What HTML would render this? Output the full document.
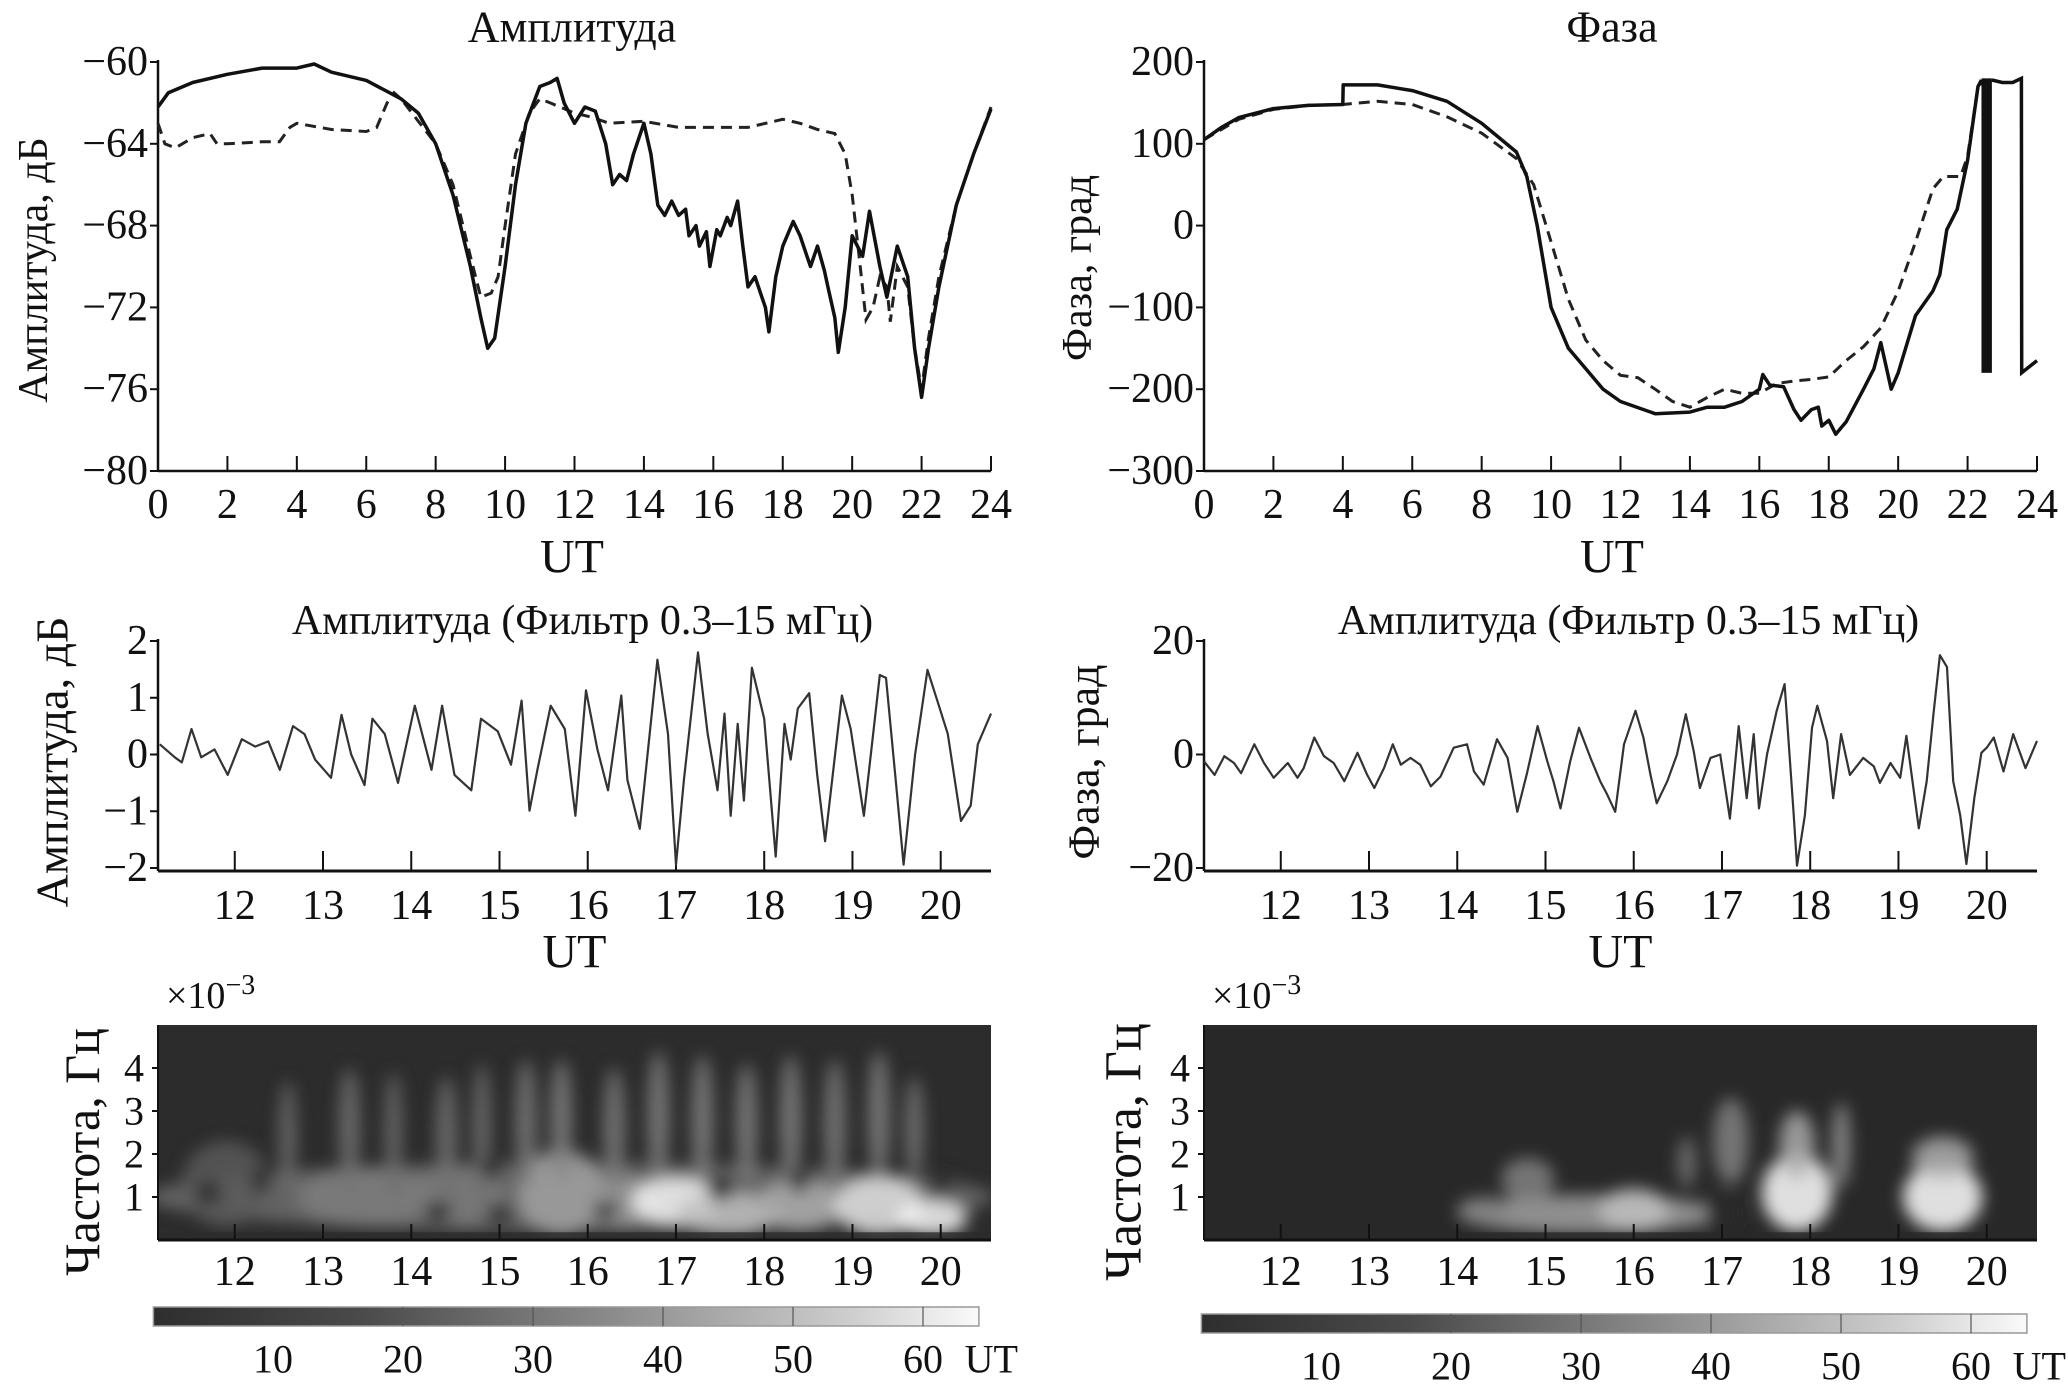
<!DOCTYPE html>
<html><head><meta charset="utf-8">
<style>
html,body{margin:0;padding:0;background:#fff;}
svg{display:block;font-family:"Liberation Serif","DejaVu Serif",serif;}
</style></head>
<body>
<svg id="fig" width="2068" height="1392" viewBox="0 0 2068 1392" xmlns="http://www.w3.org/2000/svg">
<defs>
<filter id="blur" x="-50%" y="-50%" width="200%" height="200%"><feGaussianBlur stdDeviation="8"/></filter>
<clipPath id="clipL"><rect x="158" y="1025" width="833" height="215"/></clipPath>
<clipPath id="clipR"><rect x="1204" y="1025" width="833" height="215"/></clipPath>
<linearGradient id="cbar" x1="0" x2="1" y1="0" y2="0">
<stop offset="0" stop-color="#2e2e2e"/><stop offset="0.25" stop-color="#4a4a4a"/><stop offset="0.55" stop-color="#8a8a8a"/><stop offset="0.85" stop-color="#cfcfcf"/><stop offset="1" stop-color="#fafafa"/>
</linearGradient>
</defs>
<g id="root"></g>
</svg>
<script>
// ---------- data ----------
const ampHours=[0,0.3,1,2,3,4,4.5,5,6,7,7.5,8,8.5,9,9.3,9.5,9.7,10,10.3,10.6,11,11.3,11.5,11.7,12,12.3,12.6,12.9,13.1,13.3,13.5,13.7,14,14.2,14.4,14.6,14.8,15,15.2,15.3,15.5,15.6,15.8,15.9,16.1,16.2,16.4,16.5,16.7,16.85,17,17.2,17.4,17.5,17.6,17.8,18,18.2,18.3,18.5,18.7,18.8,19,19.2,19.3,19.5,19.6,19.8,20,20.3,20.5,20.8,21,21.3,21.6,21.8,22,22.2,22.5,23,23.5,24];
const ampSolid=[-62.2,-61.5,-61,-60.6,-60.3,-60.3,-60.1,-60.5,-60.9,-61.8,-62.5,-64,-66.5,-70,-72.5,-74,-73.5,-70,-66,-63,-61.2,-61,-60.8,-62,-63,-62.2,-62.4,-64,-66,-65.5,-65.8,-64.5,-63,-64.5,-67,-67.5,-66.8,-67.5,-67.2,-68.5,-68,-69,-68.3,-70,-68.2,-68.5,-67.6,-68,-66.8,-69,-71,-70.5,-71.5,-72,-73.2,-70.5,-69,-68.2,-67.8,-68.5,-69.5,-70,-69,-70.2,-71,-72.5,-74.2,-72,-68.5,-69.5,-67.3,-70,-71.5,-69,-70.5,-74,-76.4,-74,-71,-67,-64.5,-62.3];
const ampDashHours=[0,0.2,0.5,1,1.5,1.7,2,3,3.5,3.8,4,5,6,6.3,6.6,6.8,7,8,8.5,9,9.3,9.6,9.8,10,10.3,10.7,11,11.3,12,12.5,13,14,15,16,17,18,18.5,19,19.5,19.8,20,20.2,20.4,20.6,20.8,21,21.1,21.3,21.6,21.8,22,22.2,22.5,23,23.5,24];
const ampDash=[-63,-64,-64.2,-63.7,-63.5,-64,-64,-63.9,-63.9,-63.2,-63,-63.3,-63.4,-63.2,-62,-61.5,-61.8,-64,-66,-69.5,-71.5,-71.3,-70.5,-68,-64.5,-62.5,-61.8,-62,-62.5,-62.7,-63,-62.9,-63.2,-63.2,-63.2,-62.8,-63,-63.3,-63.5,-64.5,-66.5,-69.5,-72.6,-72,-70.5,-71,-72.7,-70,-71,-74,-76,-73.5,-70.5,-67,-64.5,-62.2];
const phHours=[0,0.5,1,2,3,4,4.01,5,6,7,8,9,9.3,9.6,10,10.5,11,11.5,12,13,14,14.5,15,15.5,16,16.1,16.3,16.7,17,17.2,17.5,17.7,17.8,18,18.2,18.5,19,19.3,19.5,19.8,20,20.5,21,21.2,21.4,21.7,22,22.3,22.4];
const phSolid=[105,120,132,143,147,148,172,172,165,152,125,90,60,0,-100,-150,-175,-200,-215,-230,-228,-222,-222,-215,-200,-182,-195,-197,-225,-238,-225,-222,-245,-238,-255,-240,-200,-175,-143,-200,-180,-110,-80,-60,-5,20,80,170,178];
const phTailHours=[22.7,23,23.3,23.55,23.56,24];
const phTail=[178,175,175,180,-180,-165];
const phBar=[22.4,22.7,180,-180];
const phDashHours=[0,1,2,3,4,5,6,7,8,9,9.5,10,10.5,11,11.5,12,12.5,13,13.5,14,14.5,15,15.5,16,16.5,17,17.5,18,18.5,19,19.5,20,20.5,21,21.3,21.8,22,22.3,22.5];
const phDash=[105,130,142,147,148,152,148,133,113,82,50,-20,-90,-140,-165,-183,-186,-200,-215,-222,-210,-200,-205,-205,-193,-190,-188,-185,-165,-148,-125,-80,-20,45,60,60,85,170,178];
const fAmpHours=[11.15,11.32,11.40,11.51,11.62,11.77,11.92,12.08,12.23,12.38,12.51,12.66,12.79,12.91,13.09,13.21,13.32,13.47,13.56,13.70,13.85,14.04,14.23,14.35,14.49,14.68,14.79,14.98,15.13,15.25,15.34,15.43,15.58,15.74,15.86,15.98,16.11,16.23,16.38,16.45,16.59,16.79,16.91,17.00,17.09,17.25,17.36,17.47,17.55,17.62,17.70,17.77,17.86,18.00,18.13,18.23,18.30,18.38,18.51,18.60,18.69,18.79,18.88,18.98,19.13,19.31,19.38,19.49,19.58,19.71,19.85,19.98,20.08,20.23,20.34,20.42,20.57];
const fAmp=[0.18,-0.05,-0.14,0.45,-0.05,0.09,-0.36,0.27,0.14,0.23,-0.27,0.5,0.36,-0.09,-0.41,0.7,0,-0.54,0.63,0.36,-0.5,0.86,-0.27,0.86,-0.36,-0.63,0.63,0.41,-0.18,0.95,-0.99,-0.27,0.86,0.45,-1.08,1.13,0.09,-0.63,1.04,-0.45,-1.31,1.67,0.36,-1.94,-0.45,1.8,0.36,-0.63,0.72,-1.08,0.54,-0.81,1.53,0.63,-1.8,0.54,-0.09,0.81,1.08,-0.36,-1.53,-0.18,1.04,0.45,-1.08,1.4,1.35,-0.45,-1.94,0,1.49,0.86,0.36,-1.17,-0.9,0.18,0.72];
const fPhHours=[11.13,11.25,11.36,11.47,11.55,11.70,11.81,11.92,12.08,12.19,12.26,12.38,12.49,12.60,12.72,12.87,12.98,13.06,13.17,13.27,13.36,13.47,13.58,13.70,13.81,13.96,14.11,14.19,14.30,14.45,14.57,14.68,14.79,14.91,15.02,15.09,15.17,15.28,15.38,15.51,15.62,15.70,15.79,15.89,16.02,16.11,16.19,16.26,16.38,16.49,16.59,16.68,16.75,16.87,16.98,17.09,17.19,17.28,17.36,17.42,17.51,17.62,17.71,17.81,17.85,17.94,18.02,18.08,18.19,18.26,18.35,18.45,18.60,18.72,18.79,18.91,19.02,19.09,19.23,19.32,19.40,19.47,19.55,19.62,19.70,19.77,19.86,19.94,20.00,20.08,20.19,20.30,20.44,20.57];
const fPh=[-1.2,-3.6,-0.3,-1.5,-3.3,1.8,-1.5,-4.1,-1.5,-4.1,-2.4,3.0,-0.3,-1.5,-4.7,0.3,-3.6,-5.9,-2.4,1.8,-1.8,-0.6,-1.8,-5.6,-3.9,1.2,1.8,-3.0,-5.3,2.7,-0.6,-10.1,-3.3,5.0,-1.2,-4.7,-9.5,-1.2,4.7,-0.6,-4.7,-7.1,-10.1,1.8,7.7,3.0,-3.6,-8.6,-4.7,0,7.1,0.6,-5.9,-0.6,0,-11.3,5.0,-7.7,3.6,-9.5,0,7.7,12.4,-10.1,-19.6,-10.7,4.7,8.6,2.4,-7.7,3.6,-3.6,-0.6,-2.1,-5.0,-1.5,-4.1,3.3,-13.0,-4.7,7.7,17.5,15.4,-4.7,-10.7,-19.3,-7.7,0.3,1.2,3.0,-3.0,3.6,-2.4,2.4];
// spectrogram blobs: hour, freq(x1e-3 Hz), hour radius, freq radius, brightness (0..1, negative = dark hole)
const specLHour=[15.8,11.9,13.5,14.5,15.7,16.4,17.0,17.6,18.4,19.3,19.9,12.6,13.3,13.8,14.4,14.8,15.3,15.7,16.3,16.8,17.3,17.8,18.3,18.8,19.3,19.7,14.3,15.0,16.2,17.5,18.4,20.0,14.9,11.7,12.3];
const specLFreq=[1.0,1.3,1.0,1.0,1.1,0.9,0.9,0.6,0.8,0.8,0.5,2.4,2.6,2.5,2.4,2.6,2.7,2.8,2.6,2.9,2.8,2.7,2.8,2.7,2.9,2.6,0.65,0.6,0.7,1.2,1.4,1.3,1.7,1.1,1.4];
const specLRh=[4.8,0.5,0.8,0.6,0.5,0.4,0.5,0.6,0.5,0.5,0.4,0.1,0.12,0.1,0.12,0.1,0.12,0.12,0.12,0.12,0.12,0.12,0.12,0.12,0.12,0.1,0.15,0.15,0.14,0.15,0.12,0.12,0.12,0.15,0.12];
const specLRf=[0.8,1.0,0.7,0.7,1.0,0.6,0.55,0.5,0.6,0.7,0.4,1.3,1.4,1.4,1.4,1.5,1.5,1.4,1.4,1.5,1.5,1.4,1.5,1.5,1.5,1.2,0.25,0.25,0.2,0.3,0.3,0.3,0.3,0.3,0.3];
const specLVal=[0.30,0.22,0.38,0.36,0.55,0.5,0.95,0.7,0.6,0.85,0.95,0.3,0.33,0.3,0.33,0.33,0.36,0.4,0.38,0.4,0.4,0.4,0.4,0.38,0.4,0.36,-1,-1,-1,-1,-1,-1,-1,-1,-1];
const specRHour=[17.85,17.85,18.35,19.5,19.5,15.5,16.0,14.8,17.1,14.3,17.0,16.6];
const specRFreq=[1.1,2.2,2.2,1.0,1.9,0.6,0.7,1.4,2.3,0.7,0.6,1.8];
const specRRh=[0.4,0.2,0.1,0.45,0.35,1.5,0.4,0.3,0.2,0.3,0.2,0.1];
const specRRf=[0.9,0.8,1.0,0.8,0.5,0.45,0.5,0.5,1.0,0.3,0.5,0.6];
const specRVal=[1.0,0.6,0.5,1.0,0.6,0.55,0.7,0.4,0.4,0.4,-1,0.35];
const cbarTicks=[10,20,30,40,50,60];

// ---------- helpers ----------
const NS='http://www.w3.org/2000/svg';
const root=document.getElementById('root');
function mk(tag,attrs,parent){const e=document.createElementNS(NS,tag);for(const k in attrs)e.setAttribute(k,attrs[k]);(parent||root).appendChild(e);return e;}
function txt(s,x,y,size,anchor,parent){const t=mk('text',{x:x,y:y,'font-size':size,'text-anchor':anchor||'middle','dominant-baseline':'central',fill:'#111'},parent);t.textContent=s;return t;}
function lin(d0,d1,r0,r1){return v=>r0+(v-d0)*(r1-r0)/(d1-d0);}
function path(xs,ys,sx,sy,attrs,parent){let d='';for(let i=0;i<xs.length;i++)d+=(i?'L':'M')+sx(xs[i]).toFixed(1)+','+sy(ys[i]).toFixed(1);return mk('path',Object.assign({d:d,fill:'none'},attrs),parent);}
function ylabel(s,x,y,size,g){const t=txt(s,x,y,size,'middle',g);t.setAttribute('transform','rotate(-90 '+x+' '+y+')');return t;}

// ---------- panel 1: amplitude ----------
{
const g=mk('g',{});


const sx=lin(0,24,158,991), sy=lin(-60,-80,62,471);
mk('line',{x1:158,y1:60,x2:158,y2:471,stroke:'#111','stroke-width':2.5},g);
mk('line',{x1:158,y1:471,x2:991,y2:471,stroke:'#111','stroke-width':2.5},g);
for(let v=-60;v>=-80;v-=4){mk('line',{x1:150,y1:sy(v),x2:158,y2:sy(v),stroke:'#111','stroke-width':2},g);const t=txt('−'+(-v),148,sy(v),42,'end',g);}
for(let h=0;h<=24;h+=2){mk('line',{x1:sx(h),y1:471,x2:sx(h),y2:456,stroke:'#111','stroke-width':2},g);const t=txt(String(h),sx(h),505,42,'middle',g);}
const a=path(ampDashHours,ampDash,sx,sy,{stroke:'#222','stroke-width':3,'stroke-dasharray':'11 7'},g);

const b=path(ampHours,ampSolid,sx,sy,{stroke:'#111','stroke-width':3.5,'stroke-linejoin':'round'},g);

const t1=txt('Амплитуда',572,27,44,'middle',g);
const t2=txt('UT',572,557,48,'middle',g);
ylabel('Амплитуда, дБ',34,270,42,g);
}
// ---------- panel 2: phase ----------
{
const g=mk('g',{});


const sx=lin(0,24,1204,2037), sy=lin(200,-300,62,471);
mk('line',{x1:1204,y1:60,x2:1204,y2:471,stroke:'#111','stroke-width':2.5},g);
mk('line',{x1:1204,y1:471,x2:2037,y2:471,stroke:'#111','stroke-width':2.5},g);
for(let v=200;v>=-300;v-=100){mk('line',{x1:1196,y1:sy(v),x2:1204,y2:sy(v),stroke:'#111','stroke-width':2},g);const t=txt((v<0?'−':'')+Math.abs(v),1194,sy(v),42,'end',g);}
for(let h=0;h<=24;h+=2){mk('line',{x1:sx(h),y1:471,x2:sx(h),y2:456,stroke:'#111','stroke-width':2},g);const t=txt(String(h),sx(h),505,42,'middle',g);}
const a=path(phDashHours,phDash,sx,sy,{stroke:'#222','stroke-width':3,'stroke-dasharray':'11 7'},g);

const b=path(phHours,phSolid,sx,sy,{stroke:'#111','stroke-width':3.5,'stroke-linejoin':'round'},g);

const r=mk('rect',{x:sx(phBar[0]),y:sy(phBar[2]),width:sx(phBar[1])-sx(phBar[0]),height:sy(phBar[3])-sy(phBar[2]),fill:'#111'},g);

const c=path(phTailHours,phTail,sx,sy,{stroke:'#111','stroke-width':3.5},g);

const t1=txt('Фаза',1612,27,44,'middle',g);
const t2=txt('UT',1612,557,48,'middle',g);
ylabel('Фаза, град',1078,268,42,g);
}
// ---------- middle panels ----------
function middle(x0,x1,vals,hours,ymax,step,title,ylab,ylx,ysize,name){
const g=mk('g',{});


const sx=lin(11.13,20.57,x0,x1), sy=lin(ymax,-ymax,641,868);
mk('line',{x1:x0,y1:639,x2:x0,y2:871,stroke:'#111','stroke-width':2.5},g);
mk('line',{x1:x0,y1:871,x2:x1,y2:871,stroke:'#111','stroke-width':3},g);
for(let v=ymax;v>=-ymax;v-=step){mk('line',{x1:x0-8,y1:sy(v),x2:x0,y2:sy(v),stroke:'#111','stroke-width':2},g);const t=txt((v<0?'−':'')+Math.abs(v),x0-10,sy(v),42,'end',g);}
for(let h=12;h<=20;h++){mk('line',{x1:sx(h),y1:871,x2:sx(h),y2:851,stroke:'#111','stroke-width':2},g);const t=txt(String(h),sx(h),906,42,'middle',g);}
const p=path(hours,vals,sx,sy,{stroke:'#333','stroke-width':2.2,'stroke-linejoin':'round'},g);

const t1=txt(title,(x0+x1)/2+8,621,42,'middle',g);
const t2=txt('UT',(x0+x1)/2,952,48,'middle',g);
ylabel(ylab,ylx,762,ysize,g);
}
middle(158,991,fAmp,fAmpHours,2,1,'Амплитуда (Фильтр 0.3–15 мГц)','Амплитуда, дБ',52,46,'filtered-amplitude-panel');
middle(1204,2037,fPh,fPhHours,20,20,'Амплитуда (Фильтр 0.3–15 мГц)','Фаза, град',1084,44,'filtered-phase-panel');

// ---------- spectrograms ----------
function spectro(x0,x1,hs,fs,rh,rf,vs,clip,bg,cx0,cy,ylx,ysize,name){
const g=mk('g',{});


const sx=lin(11.13,20.57,x0,x1), sy=lin(0,5,1240,1025);
const bgr=mk('rect',{x:x0,y:1025,width:x1-x0,height:215,fill:bg},g);

const bl=mk('g',{'clip-path':'url(#'+clip+')'},g);
const inner=mk('g',{filter:'url(#blur)'},bl);
for(let i=0;i<hs.length;i++){
 const v=vs[i];
 const c=v<0?bg:'rgb('+Math.round(45+210*v)+','+Math.round(45+210*v)+','+Math.round(45+210*v)+')';
 const e=mk('ellipse',{cx:sx(hs[i]),cy:sy(fs[i]),rx:Math.abs(sx(hs[i]+rh[i])-sx(hs[i])),ry:Math.abs(sy(fs[i]+rf[i])-sy(fs[i])),fill:c,opacity:v<0?0.9:0.85},inner);
 
 
}
mk('rect',{x:x0,y:sy(0.18),width:x1-x0,height:1240-sy(0.18),fill:bg,opacity:0.8},bl);
mk('line',{x1:x0,y1:1025,x2:x0,y2:1240,stroke:'#111','stroke-width':2},g);
mk('line',{x1:x0,y1:1240,x2:x1,y2:1240,stroke:'#111','stroke-width':3},g);
for(let f=1;f<=4;f++){mk('line',{x1:x0-6,y1:sy(f),x2:x0,y2:sy(f),stroke:'#111','stroke-width':2},g);const t=txt(String(f),x0-14,sy(f),40,'end',g);}
for(let h=12;h<=20;h++){mk('line',{x1:sx(h),y1:1240,x2:sx(h),y2:1224,stroke:'#111','stroke-width':2},g);const t=txt(String(h),sx(h),1272,42,'middle',g);}
const t0=mk('text',{x:x0+8,y:1008,'font-size':38,fill:'#111'},g);

const s1=mk('tspan',{},t0);s1.textContent='×10';
const s2=mk('tspan',{dy:-14,'font-size':28},t0);s2.textContent='−3';
ylabel('Частота, Гц',ylx,1152,ysize,g);
// colorbar
const cs=lin(0,10,cx0,cx0+130);
const cb=mk('rect',{x:cs(0.8),y:cy,width:cs(64.3)-cs(0.8),height:19,fill:'url(#cbar)',stroke:'#999','stroke-width':1.5},g);

for(const v of cbarTicks){
 if(v>10)mk('line',{x1:cs(v),y1:cy,x2:cs(v),y2:cy+19,stroke:'#555','stroke-width':1.2},g);
 const t=txt(String(v),cs(v),cy+52,40,'middle',g);
}
const tu=txt('UT',cs(63.2),cy+52,40,'start',g);
}
spectro(158,991,specLHour,specLFreq,specLRh,specLRf,specLVal,'clipL','#2c2c2c',143,1307,82,50,'amplitude-spectrogram');
spectro(1204,2037,specRHour,specRFreq,specRRh,specRRf,specRVal,'clipR','#282828',1191,1314,1124,52,'phase-spectrogram');
</script>
</body></html>
